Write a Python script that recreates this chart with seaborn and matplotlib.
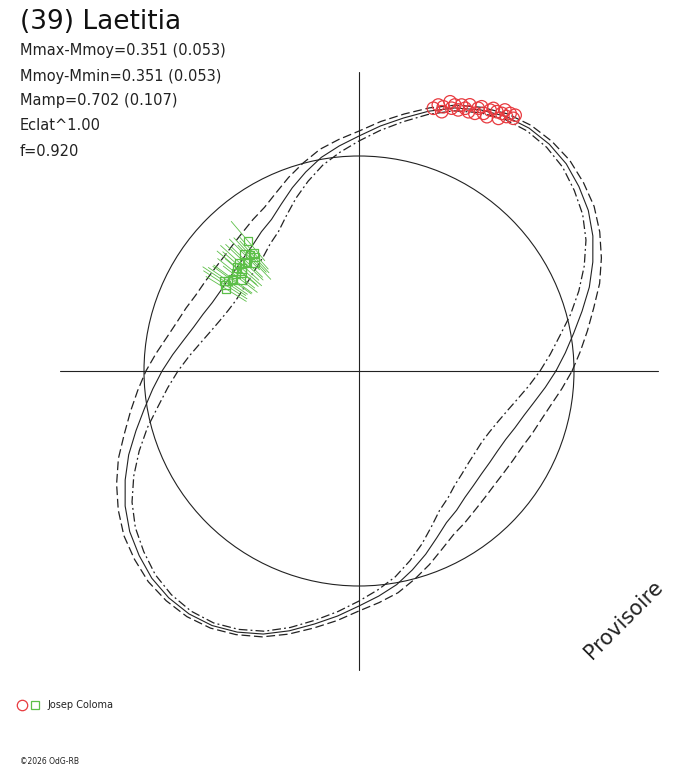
import numpy as np
import pandas as pd
import matplotlib
matplotlib.use('Agg')
import matplotlib.pyplot as plt
from matplotlib.patches import Circle
import seaborn as sns

# Polar lightcurve of (39) Laetitia: radius = relative flux (1 = mean), angle = rotational phase
phase_deg = list(range(0, 360, 5))

flux_model = [0.916, 0.963, 1.014, 1.074, 1.140, 1.200, 1.256, 1.302, 1.335, 1.363,
              1.377, 1.379, 1.367, 1.340, 1.302, 1.251, 1.195, 1.144, 1.093, 1.051,
              1.009, 0.958, 0.907, 0.856, 0.814, 0.791, 0.767, 0.753, 0.744, 0.742,
              0.744, 0.753, 0.772, 0.795, 0.828, 0.870,
              0.916, 0.963, 1.014, 1.074, 1.140, 1.200, 1.256, 1.302, 1.335, 1.363,
              1.377, 1.379, 1.367, 1.340, 1.302, 1.251, 1.195, 1.144, 1.093, 1.051,
              1.009, 0.958, 0.907, 0.856, 0.814, 0.791, 0.767, 0.753, 0.744, 0.742,
              0.744, 0.753, 0.772, 0.795, 0.828, 0.870]

flux_upper = [0.991, 1.033, 1.079, 1.130, 1.191, 1.244, 1.293, 1.335, 1.363, 1.386,
              1.395, 1.395, 1.381, 1.353, 1.316, 1.267, 1.214, 1.165, 1.116, 1.081,
              1.047, 1.002, 0.958, 0.914, 0.879, 0.860, 0.842, 0.830, 0.823, 0.823,
              0.828, 0.837, 0.856, 0.877, 0.907, 0.947,
              0.991, 1.033, 1.079, 1.130, 1.191, 1.244, 1.293, 1.335, 1.363, 1.386,
              1.395, 1.395, 1.381, 1.353, 1.316, 1.267, 1.214, 1.165, 1.116, 1.081,
              1.047, 1.002, 0.958, 0.914, 0.879, 0.860, 0.842, 0.830, 0.823, 0.823,
              0.828, 0.837, 0.856, 0.877, 0.907, 0.947]

flux_lower = [0.842, 0.893, 0.949, 1.019, 1.088, 1.156, 1.219, 1.270, 1.307, 1.340,
              1.358, 1.363, 1.353, 1.326, 1.288, 1.235, 1.177, 1.123, 1.070, 1.021,
              0.972, 0.914, 0.856, 0.798, 0.749, 0.721, 0.693, 0.677, 0.665, 0.660,
              0.660, 0.670, 0.688, 0.714, 0.749, 0.793,
              0.842, 0.893, 0.949, 1.019, 1.088, 1.156, 1.219, 1.270, 1.307, 1.340,
              1.358, 1.363, 1.353, 1.326, 1.288, 1.235, 1.177, 1.123, 1.070, 1.021,
              0.972, 0.914, 0.856, 0.798, 0.749, 0.721, 0.693, 0.677, 0.665, 0.660,
              0.660, 0.670, 0.688, 0.714, 0.749, 0.793]

# observations, session 1 (red circles)
red_phase = [74.2, 73.4, 72.3, 72.3, 71.3, 70.6, 70.2, 69.2, 68.9, 68.0, 67.1, 67.4, 65.8, 65.6,
             65.1, 64.2, 63.3, 63.3, 62.9, 62.0, 61.1, 61.0, 60.8, 59.9, 59.6, 58.6, 58.6]
red_flux = [1.270, 1.291, 1.290, 1.266, 1.322, 1.296, 1.315, 1.299, 1.326, 1.318, 1.309, 1.341,
            1.314, 1.342, 1.355, 1.331, 1.324, 1.358, 1.372, 1.366, 1.342, 1.370, 1.391, 1.368,
            1.389, 1.377, 1.394]

# observations, session 2 (green squares with error bars)
green_phase = [130.5, 131.7, 133.2, 137.8, 135.8, 133.9, 139.8, 140.0, 143.9, 146.3, 142.3,
               148.3, 144.4, 136.5, 141.5, 134.5, 138.8, 145.5, 132.5, 147.2]
green_flux = [0.795, 0.735, 0.740, 0.749, 0.726, 0.702, 0.744, 0.712, 0.726, 0.753, 0.698,
              0.726, 0.726, 0.735, 0.730, 0.760, 0.722, 0.740, 0.720, 0.740]
green_err = [0.12, 0.10, 0.11, 0.12, 0.10, 0.11, 0.12, 0.10, 0.11, 0.12, 0.10,
             0.11, 0.11, 0.12, 0.11, 0.10, 0.12, 0.11, 0.10, 0.12]

stats_lines = ['Mmax-Mmoy=0.351 (0.053)', 'Mmoy-Mmin=0.351 (0.053)',
               'Mamp=0.702 (0.107)', 'Eclat^1.00', 'f=0.920']

RED = '#e83a3f'
GREEN = '#5cbf48'

sns.set_theme(style='white')
plt.rcParams['font.family'] = ['DejaVu Sans']

W, H = 688, 768
fig = plt.figure(figsize=(W / 100, H / 100), dpi=100)
ax = fig.add_axes([0, 0, 1, 1])

# pixel layout: centre at (359, 371), unit circle = 215 px
scale = 215.0
ax.set_xlim(-359 / scale, (W - 359) / scale)
ax.set_ylim(-(H - 371) / scale, 371 / scale)
ax.set_aspect('equal')
ax.axis('off')


def to_xy(ph, fl):
    t = np.deg2rad(np.asarray(ph, dtype=float))
    f = np.asarray(fl, dtype=float)
    return f * np.cos(t), f * np.sin(t)


def closed(ph, fl):
    x, y = to_xy(ph, fl)
    return np.append(x, x[0]), np.append(y, y[0])


# axes cross and mean-brightness circle
L = 1.39
ax.plot([-L, L], [0, 0], color='#222222', lw=0.8)
ax.plot([0, 0], [-L, L], color='#222222', lw=0.8)
ax.add_patch(Circle((0, 0), 1.0, fill=False, ec='#222222', lw=0.8))

# model curves
x, y = closed(phase_deg, flux_model)
sns.lineplot(x=x, y=y, sort=False, estimator=None, ax=ax, color='#222222', lw=0.8)
x, y = closed(phase_deg, flux_upper)
sns.lineplot(x=x, y=y, sort=False, estimator=None, ax=ax, color='#222222', lw=0.9,
             dashes=False, linestyle=(0, (7, 3)))
x, y = closed(phase_deg, flux_lower)
sns.lineplot(x=x, y=y, sort=False, estimator=None, ax=ax, color='#222222', lw=0.9,
             dashes=False, linestyle=(0, (7, 2.5, 1.5, 2.5)))

# green error bars (radial)
rows = []
for i, (p, f, e) in enumerate(zip(green_phase, green_flux, green_err)):
    for ff in (f - e, f + e):
        xx, yy = to_xy([p], [ff])
        rows.append({'x': xx[0], 'y': yy[0], 'pt': i})
err_df = pd.DataFrame(rows)
sns.lineplot(data=err_df, x='x', y='y', units='pt', estimator=None, sort=False,
             ax=ax, color=GREEN, lw=0.6)

gx, gy = to_xy(green_phase, green_flux)
sns.scatterplot(x=gx, y=gy, ax=ax, marker='s', s=38, facecolor='none',
                edgecolor=GREEN, linewidth=0.9, zorder=5)

rx, ry = to_xy(red_phase, red_flux)
sns.scatterplot(x=rx, y=ry, ax=ax, marker='o', s=80, facecolor='none',
                edgecolor=RED, linewidth=0.9, zorder=5)

# texts
fig.text(20 / W, 1 - 22 / H, '(39) Laetitia', fontsize=19, color='#111111',
         ha='left', va='center')
for k, s in enumerate(stats_lines):
    fig.text(20 / W, 1 - (51 + 25 * k) / H, s, fontsize=10.5, color='#222222',
             ha='left', va='center')

fig.text(624 / W, 1 - 620 / H, 'Provisoire', fontsize=15, rotation=45,
         color='#222222', ha='center', va='center')

# legend
ax.plot([22 / W], [1 - 705 / H], marker='o', ms=7.5, mfc='none', mec=RED, mew=0.9,
        transform=fig.transFigure, clip_on=False)
ax.plot([35 / W], [1 - 705 / H], marker='s', ms=5.5, mfc='none', mec=GREEN, mew=0.9,
        transform=fig.transFigure, clip_on=False)
fig.text(47 / W, 1 - 705 / H, 'Josep Coloma', fontsize=7, color='#222222',
         ha='left', va='center')
fig.text(20 / W, 1 - 762 / H, '©2026 OdG-RB', fontsize=5.5, color='#222222',
         ha='left', va='center')

fig.savefig('out.png', dpi=100, facecolor='white')
